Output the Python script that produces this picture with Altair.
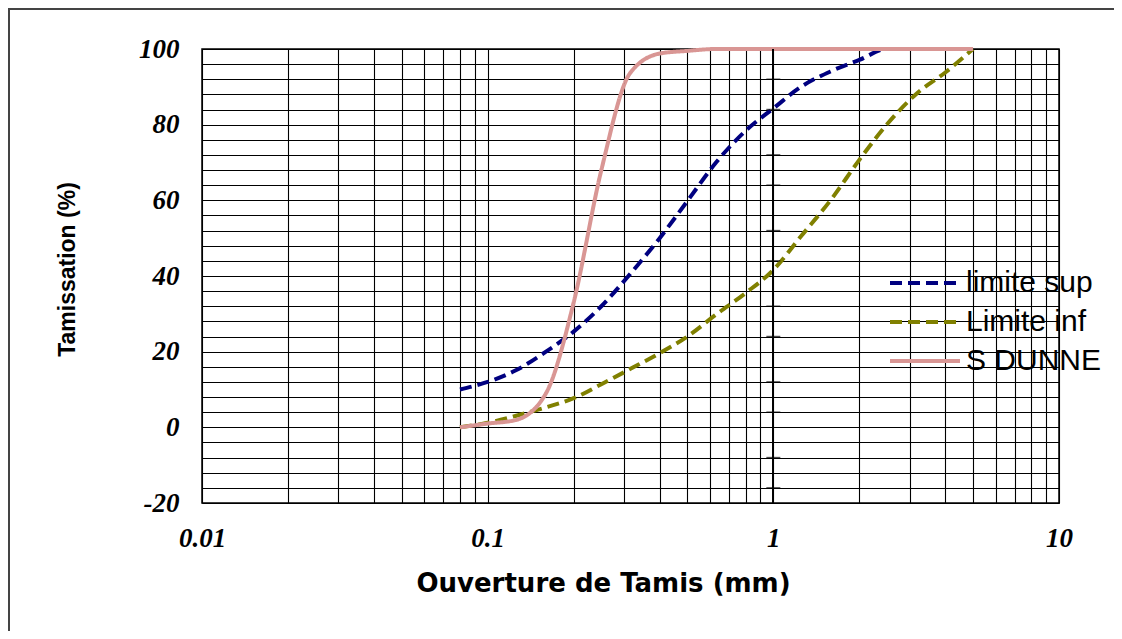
import altair as alt
import pandas as pd

# Sieve openings (mm)
sieves = [0.08, 0.1, 0.125, 0.16, 0.2, 0.25, 0.315, 0.4, 0.5, 0.63, 0.8, 1, 1.25, 1.6, 2, 2.5, 3.15, 4, 5]
limite_sup = [10, 12, 15, 20, 25.3, 32, 40.5, 50, 59.8, 70, 78.4, 84.3, 90, 94.2, 97.1, 100, 100, 100, 100]
limite_inf = [0, 1.2, 3, 5.3, 7.7, 11.4, 15.4, 19.6, 24, 29.8, 35.5, 41.6, 50.5, 60.4, 70.7, 80.1, 88, 93.8, 100]
s_dunne = [0, 1, 1.9, 9, 33, 68, 93.6, 98.8, 99.5, 100, 100, 100, 100, 100, 100, 100, 100, 100, 100]

series_names = ["limite sup", "Limite inf", "S DUNNE"]
series_colors = ["#000080", "#808000", "#D99694"]
series_dash = [[12, 6], [12, 6], [1, 0]]
series_width = [4, 4, 5]

x_grid_values = [0.01, 0.02, 0.03, 0.04, 0.05, 0.06, 0.07, 0.08, 0.09,
                 0.1, 0.2, 0.3, 0.4, 0.5, 0.6, 0.7, 0.8, 0.9,
                 1, 2, 3, 4, 5, 6, 7, 8, 9, 10]
y_grid_values = [-20, -16, -12, -8, -4, 0, 4, 8, 12, 16, 20, 24, 28, 32, 36, 40, 44, 48,
                 52, 56, 60, 64, 68, 72, 76, 80, 84, 88, 92, 96, 100]
cross_axis_x = [1]
cross_axis_ticks = [92, 84, 72, 64, 52, 44, 32, 24, 12, 4, -8, -16]

rows = []
for name, vals in zip(series_names, [limite_sup, limite_inf, s_dunne]):
    for s, v in zip(sieves, vals):
        rows.append({"sieve": s, "pct": v, "serie": name})
df = pd.DataFrame(rows)

x_scale = alt.Scale(type="log", domain=[0.01, 10])
y_scale = alt.Scale(domain=[-20, 100], nice=False, zero=False)

x_axis = alt.Axis(
    values=x_grid_values, grid=True, gridColor="#000000", gridWidth=1.1,
    ticks=False, domain=False,
    labelExpr="(datum.value==0.01||datum.value==0.1||datum.value==1||datum.value==10) ? ''+datum.value : ''",
    labelFont="Liberation Serif", labelFontStyle="italic", labelFontWeight="bold",
    labelFontSize=27, labelColor="black", labelPadding=22, labelFlush=False,
    labelOverlap=False,
    titleFont="DejaVu Sans", titleFontWeight="bold",
    titleFontSize=26, titleColor="black", titleX=401, titleY=80,
    titleAlign="center", titleBaseline="middle")
y_axis = alt.Axis(
    values=y_grid_values, grid=True, gridColor="#000000", gridWidth=1.1,
    ticks=False, domain=False,
    labelExpr="datum.value % 20 == 0 ? ''+datum.value : ''",
    labelFont="Liberation Serif", labelFontStyle="italic", labelFontWeight="bold",
    labelFontSize=27, labelColor="black", labelPadding=23, labelOverlap=False,
    titleFont="Liberation Sans", titleFontWeight="bold",
    titleFontSize=23, titleColor="black", titleX=-135, titleY=220, titleAngle=270,
    titleAlign="center", titleBaseline="middle")

X_TITLE = "Ouverture de Tamis (mm)"
Y_TITLE = "Tamissation (%)"

legend_props = dict(title=None, orient="none", legendX=686, legendY=220,
                    symbolType="stroke", symbolSize=4900, symbolStrokeWidth=4.5,
                    clipHeight=28, labelFont="Liberation Sans", labelFontSize=30,
                    labelColor="black", labelOffset=4, rowPadding=9)

lines = alt.Chart(df).mark_line(interpolate="monotone").encode(
    x=alt.X("sieve:Q", scale=x_scale, axis=x_axis, title=X_TITLE),
    y=alt.Y("pct:Q", scale=y_scale, axis=y_axis, title=Y_TITLE),
    color=alt.Color("serie:N", sort=series_names,
                    scale=alt.Scale(domain=series_names, range=series_colors),
                    legend=alt.Legend(**legend_props)),
    strokeDash=alt.StrokeDash("serie:N", sort=series_names,
                              scale=alt.Scale(domain=series_names, range=series_dash),
                              legend=alt.Legend(**legend_props)),
    strokeWidth=alt.StrokeWidth("serie:N", scale=alt.Scale(domain=series_names, range=series_width),
                                legend=None),
)

ticks_df = pd.DataFrame({"sieve": cross_axis_x * len(cross_axis_ticks), "pct": cross_axis_ticks})
cross_line = alt.Chart(ticks_df).mark_rule(color="black", strokeWidth=1.2).encode(
    x=alt.X("sieve:Q", scale=x_scale, axis=x_axis, title=X_TITLE))
cross_ticks = alt.Chart(ticks_df).mark_tick(orient="horizontal", size=14, thickness=1.5, color="black").encode(
    x=alt.X("sieve:Q", scale=x_scale, axis=x_axis, title=X_TITLE),
    y=alt.Y("pct:Q", scale=y_scale, axis=y_axis, title=Y_TITLE))

frame_left = alt.Chart(pd.DataFrame({"k": [0]})).mark_rule(color="#444444", strokeWidth=2).encode(
    x=alt.value(-193), y=alt.value(-41), y2=alt.value(620))
frame_top = alt.Chart(pd.DataFrame({"k": [0]})).mark_rule(color="#444444", strokeWidth=2).encode(
    x=alt.value(-194), x2=alt.value(920), y=alt.value(-40))

chart = alt.layer(lines, cross_line, cross_ticks, frame_left, frame_top).properties(
    width=857, height=454,
    autosize=alt.AutoSizeParams(type="none"),
    padding={"left": 194, "top": 41, "right": 55, "bottom": 128},
    background="white",
).configure_view(stroke="black", strokeWidth=1.5)

chart.save("out.html", embed_options={"renderer": "svg", "actions": False})
